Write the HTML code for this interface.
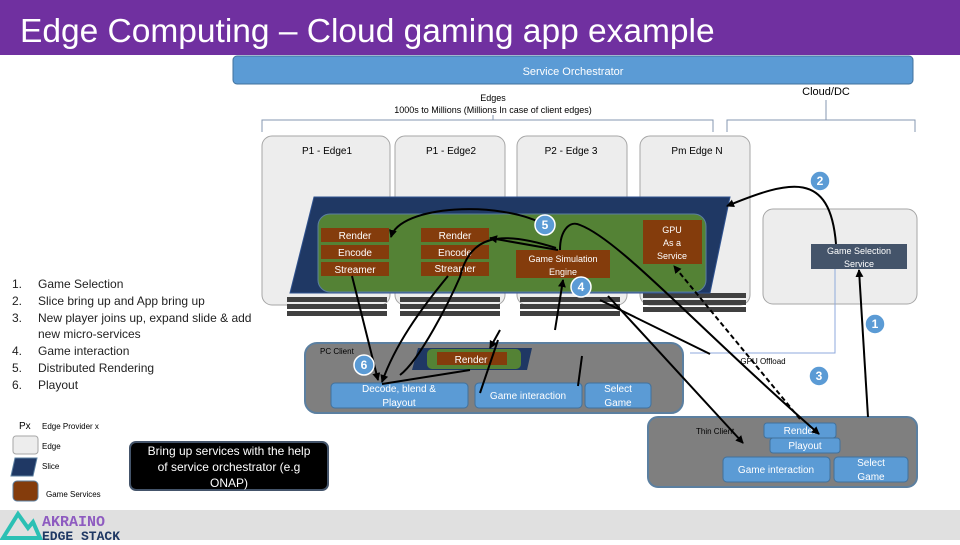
<!DOCTYPE html>
<html><head><meta charset="utf-8"><style>
body{margin:0;width:960px;height:540px;overflow:hidden;background:#fff;font-family:"Liberation Sans",sans-serif}
</style></head><body>
<svg width="960" height="540" viewBox="0 0 960 540" xmlns="http://www.w3.org/2000/svg" font-family="Liberation Sans, sans-serif">
<defs>
<marker id="a" markerWidth="8" markerHeight="8" refX="7" refY="4" orient="auto" markerUnits="userSpaceOnUse"><path d="M0,0 L8,4 L0,8 z" fill="#000"/></marker>
</defs>
<rect x="0" y="0" width="960" height="55" fill="#7030A0"/>
<text x="20" y="42" font-size="33.5" fill="#fff">Edge Computing – Cloud gaming app example</text>
<rect x="233" y="56" width="680" height="28" rx="4" fill="#5B9BD5" stroke="#41719C"/>
<text x="573" y="75" font-size="11" fill="#fff" text-anchor="middle">Service Orchestrator</text>
<text x="493" y="101" font-size="9" text-anchor="middle">Edges</text>
<text x="493" y="113" font-size="9" text-anchor="middle">1000s to Millions (Millions In case of client edges)</text>
<text x="826" y="95" font-size="11" text-anchor="middle">Cloud/DC</text>
<path d="M262,132 V120 H713 V132 M713,132" fill="none" stroke="#8497B0"/>
<path d="M727,132 V120 H915 V132" fill="none" stroke="#8497B0"/>
<path d="M493,115 V120 M826,100 V120" stroke="#8497B0"/>
<g fill="#EDEDED" stroke="#A6A6A6">
<rect x="262" y="136" width="128" height="169" rx="10"/>
<rect x="395" y="136" width="110" height="169" rx="10"/>
<rect x="517" y="136" width="110" height="169" rx="10"/>
<rect x="640" y="136" width="110" height="169" rx="10"/>
<rect x="763" y="209" width="154" height="95" rx="10"/>
</g>
<g font-size="10" text-anchor="middle"><text x="327" y="154">P1 - Edge1</text><text x="451" y="154">P1 - Edge2</text><text x="571" y="154">P2 - Edge 3</text><text x="697" y="154">Pm Edge N</text></g>
<g fill="#404040">
<rect x="287" y="297" width="100" height="5"/><rect x="287" y="304" width="100" height="5"/><rect x="287" y="311" width="100" height="5"/>
<rect x="400" y="297" width="100" height="5"/><rect x="400" y="304" width="100" height="5"/><rect x="400" y="311" width="100" height="5"/>
<rect x="520" y="297" width="100" height="5"/><rect x="520" y="304" width="100" height="5"/><rect x="520" y="311" width="100" height="5"/>
<rect x="643" y="293" width="103" height="5"/><rect x="643" y="300" width="103" height="5"/><rect x="643" y="307" width="103" height="5"/>
</g>
<polygon points="314,197 730,197 710,293 290,293" fill="#1F3864" stroke="#2F528F"/>
<rect x="318" y="214" width="388" height="78" rx="12" fill="#548235" stroke="#5B7FA0"/>
<g fill="#843C0C">
<rect x="321" y="228" width="68" height="14"/><rect x="321" y="245" width="68" height="14"/><rect x="321" y="262" width="68" height="14"/>
<rect x="421" y="228" width="68" height="14"/><rect x="421" y="245" width="68" height="14"/><rect x="421" y="262" width="68" height="14"/>
<rect x="516" y="250" width="94" height="28"/><rect x="643" y="220" width="59" height="44"/>
</g>
<g fill="#fff" font-size="10" text-anchor="middle">
<text x="355" y="239">Render</text><text x="355" y="256">Encode</text><text x="355" y="273">Streamer</text>
<text x="455" y="239">Render</text><text x="455" y="256">Encode</text><text x="455" y="272">Streamer</text>
<text x="563" y="262" font-size="9">Game Simulation</text><text x="563" y="275" font-size="9">Engine</text>
<text x="672" y="233" font-size="9">GPU</text><text x="672" y="246" font-size="9">As a</text><text x="672" y="259" font-size="9">Service</text>
</g>
<rect x="811" y="244" width="96" height="25" fill="#44546A"/>
<text x="859" y="254" font-size="9" fill="#fff" text-anchor="middle">Game Selection</text>
<text x="859" y="267" font-size="9" fill="#fff" text-anchor="middle">Service</text>
<path d="M835,269 V353 H690" fill="none" stroke="#8FAADC"/>
<text x="12" y="288" font-size="12" fill="#222">1.</text><text x="38" y="288" font-size="12" fill="#222">Game Selection</text>
<text x="12" y="305" font-size="12" fill="#222">2.</text><text x="38" y="305" font-size="12" fill="#222">Slice bring up and App bring up</text>
<text x="12" y="322" font-size="12" fill="#222">3.</text><text x="38" y="322" font-size="12" fill="#222">New player joins up, expand slide &amp; add</text>
<text x="38" y="338" font-size="12" fill="#222">new micro-services</text>
<text x="12" y="355" font-size="12" fill="#222">4.</text><text x="38" y="355" font-size="12" fill="#222">Game interaction</text>
<text x="12" y="372" font-size="12" fill="#222">5.</text><text x="38" y="372" font-size="12" fill="#222">Distributed Rendering</text>
<text x="12" y="389" font-size="12" fill="#222">6.</text><text x="38" y="389" font-size="12" fill="#222">Playout</text>
<rect x="305" y="343" width="378" height="70" rx="12" fill="#7F7F7F" stroke="#5B7FA0" stroke-width="2"/>
<text x="320" y="354" font-size="8">PC Client</text>
<polygon points="418,348 532,348 527,370 412,370" fill="#1F3864"/>
<rect x="427" y="349" width="94" height="20" rx="5" fill="#548235"/>
<rect x="437" y="352" width="70" height="13" fill="#843C0C"/>
<text x="471" y="363" font-size="10" fill="#fff" text-anchor="middle">Render</text>
<g fill="#5B9BD5" stroke="#41719C"><rect x="331" y="383" width="137" height="25" rx="4"/><rect x="475" y="383" width="107" height="25" rx="4"/><rect x="585" y="383" width="66" height="25" rx="4"/></g>
<g fill="#fff" font-size="10" text-anchor="middle"><text x="399" y="392">Decode, blend &amp;</text><text x="399" y="406">Playout</text><text x="528" y="399">Game interaction</text><text x="618" y="392">Select</text><text x="618" y="406">Game</text></g>
<rect x="648" y="417" width="269" height="70" rx="10" fill="#7F7F7F" stroke="#5B7FA0" stroke-width="2"/>
<text x="696" y="434" font-size="8">Thin Client</text>
<g fill="#5B9BD5" stroke="#41719C"><rect x="764" y="423" width="72" height="15" rx="3"/><rect x="770" y="438" width="70" height="15" rx="3"/><rect x="723" y="457" width="107" height="25" rx="4"/><rect x="834" y="457" width="74" height="25" rx="4"/></g>
<g fill="#fff" font-size="10" text-anchor="middle"><text x="800" y="434">Render</text><text x="805" y="449">Playout</text><text x="776" y="473">Game interaction</text><text x="871" y="466">Select</text><text x="871" y="480">Game</text></g>
<text x="763" y="364" font-size="8" text-anchor="middle">GPU Offload</text>
<g fill="none" stroke="#000" stroke-width="2">
<path d="M352,276 L378,380" marker-end="url(#a)"/>
<path d="M448,276 C420,310 395,345 382,382" marker-end="url(#a)"/>
<path d="M545,225 C500,200 400,205 391,237" marker-end="url(#a)"/>
<path d="M556,248 C500,230 470,235 460,277 C450,300 420,360 400,375"/>
<path d="M558,250 L490,238" marker-end="url(#a)"/>
<path d="M560,250 C560,230 570,220 580,225 C620,240 700,330 819,434" marker-end="url(#a)"/>
<path d="M608,296 L743,443" marker-end="url(#a)"/>
<path d="M555,330 L563,280" marker-end="url(#a)"/>
<path d="M600,300 L710,354"/>
<path d="M498,340 L480,393 M470,370 L382,384"/>
<path d="M578,386 L582,356"/>
<path d="M868,417 L859,270" marker-end="url(#a)"/>
<path d="M836,244 C830,170 790,180 727,206" marker-end="url(#a)"/>
<path d="M500,330 L490,348" marker-end="url(#a)"/>
</g>
<path d="M800,419 L674,266" fill="none" stroke="#000" stroke-width="2" stroke-dasharray="5,3" marker-end="url(#a)"/>
<g fill="#5B9BD5" stroke="#fff" stroke-width="1.5"><circle cx="545" cy="225" r="10"/><circle cx="581" cy="287" r="10"/><circle cx="820" cy="181" r="10"/><circle cx="875" cy="324" r="10"/><circle cx="819" cy="376" r="10"/><circle cx="364" cy="365" r="10"/></g>
<g fill="#fff" font-size="12" font-weight="bold" text-anchor="middle"><text x="545" y="229">5</text><text x="581" y="291">4</text><text x="820" y="185">2</text><text x="875" y="328">1</text><text x="819" y="380">3</text><text x="364" y="369">6</text></g>
<text x="19" y="429" font-size="10">Px</text><text x="42" y="429" font-size="8">Edge Provider x</text>
<rect x="13" y="436" width="25" height="18" rx="3" fill="#EDEDED" stroke="#A6A6A6"/><text x="42" y="449" font-size="8">Edge</text>
<polygon points="15,458 37,458 33,476 11,476" fill="#1F3864" stroke="#5B7FA0"/><text x="42" y="469" font-size="8">Slice</text>
<rect x="13" y="481" width="25" height="20" rx="4" fill="#843C0C" stroke="#5B7FA0"/><text x="46" y="497" font-size="8">Game Services</text>
<rect x="130" y="442" width="198" height="48" rx="6" fill="#000" stroke="#44546A" stroke-width="2"/>
<g fill="#fff" font-size="12" text-anchor="middle"><text x="229" y="455">Bring up services with the help</text><text x="229" y="471">of service orchestrator (e.g</text><text x="229" y="487">ONAP)</text></g>
<rect x="0" y="510" width="960" height="30" fill="#E0E0E0"/>
<path d="M3,538 L18,514 L28,528 L33,522 L40,538 Z" fill="none" stroke="#2BC0B4" stroke-width="4"/>
<text x="42" y="526" font-size="15" font-weight="bold" fill="#8E5BC0" font-family="Liberation Mono, monospace">AKRAINO</text>
<text x="42" y="540" font-size="13" font-weight="bold" fill="#1F3864" font-family="Liberation Mono, monospace">EDGE STACK</text>
</svg>
</body></html>
